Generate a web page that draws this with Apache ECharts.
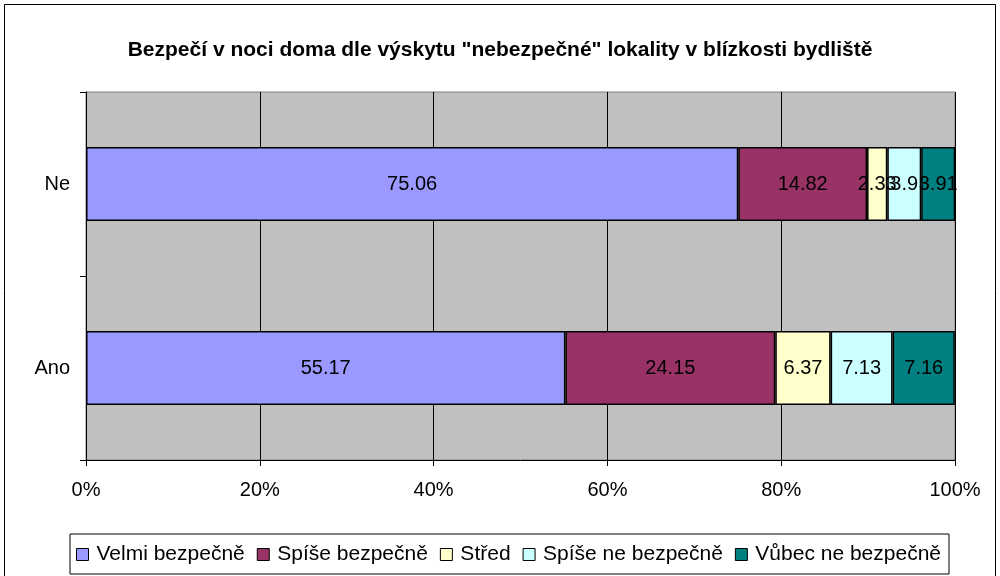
<!DOCTYPE html>
<html>
<head>
<meta charset="utf-8">
<script src="https://cdn.jsdelivr.net/npm/echarts@6/dist/echarts.min.js"></script>
<style>
  body { margin: 0; background: #fff; }
  #main { width: 1000px; height: 576px; }
</style>
</head>
<body>
<div id="main"></div>
<script>
/* data */
var categories = ['Ano', 'Ne'];
var seriesNames = ['Velmi bezpečně', 'Spíše bezpečně', 'Střed', 'Spíše ne bezpečně', 'Vůbec ne bezpečně'];
var velmi = [55.17, 75.06];
var spise = [24.15, 14.82];
var stred = [6.37, 2.33];
var spiseNe = [7.13, 3.9];
var vubecNe = [7.16, 3.91];
var xTicks = [0, 20, 40, 60, 80, 100];

var colors = ['#9999FF', '#993366', '#FFFFCC', '#CCFFFF', '#008080'];
var values = [velmi, spise, stred, spiseNe, vubecNe];

var myChart = echarts.init(document.getElementById('main'));

var series = [];
for (var i = 0; i < seriesNames.length; i++) {
  series.push({
    name: seriesNames[i],
    type: 'bar',
    stack: 'total',
    barWidth: 74,
    itemStyle: {
      color: colors[i],
      borderColor: '#000',
      borderWidth: 1.5
    },
    label: {
      show: true,
      position: 'inside',
      color: '#000',
      fontFamily: 'Liberation Sans, Arial',
      fontSize: 20,
      formatter: function (p) { return p.value; }
    },
    data: values[i]
  });
}

option = {
  animation: false,
  textStyle: { fontFamily: 'Liberation Sans, Arial' },
  title: {
    text: 'Bezpečí v noci doma dle výskytu "nebezpečné" lokality v blízkosti bydliště',
    left: 'center',
    top: 35,
    textStyle: {
      fontFamily: 'Liberation Sans, Arial',
      fontSize: 21,
      fontWeight: 'bold',
      color: '#000'
    }
  },
  graphic: [{
    type: 'rect',
    shape: { x: 4.5, y: 4.5, width: 991, height: 620 },
    style: { fill: 'none', stroke: '#000', lineWidth: 1 },
    silent: true
  }],
  legend: {
    bottom: 2,
    left: 70,
    icon: 'rect',
    itemWidth: 12,
    itemHeight: 12,
    itemGap: 12,
    padding: [10, 8, 9, 6],
    borderColor: '#000',
    borderWidth: 1,
    textStyle: {
      fontFamily: 'Liberation Sans, Arial',
      fontSize: 21,
      color: '#000',
      padding: [0, 0, 0, 3]
    },
    itemStyle: { borderColor: '#000', borderWidth: 1 },
    data: seriesNames
  },
  grid: {
    left: 86,
    right: 45,
    top: 92,
    bottom: 116,
    show: true,
    backgroundColor: '#C0C0C0',
    borderColor: '#808080',
    borderWidth: 1
  },
  xAxis: {
    type: 'value',
    min: 0,
    max: 100,
    interval: 20,
    axisLine: { show: true, lineStyle: { color: '#000', width: 1 } },
    axisTick: { show: true, length: 6, lineStyle: { color: '#000' } },
    axisLabel: {
      color: '#000',
      fontSize: 20,
      margin: 20,
      formatter: function (v) { return xTicks.indexOf(v) >= 0 ? v + '%' : ''; }
    },
    splitLine: { show: true, lineStyle: { color: '#000', width: 1 } }
  },
  yAxis: {
    type: 'category',
    data: categories,
    axisLine: { show: true, lineStyle: { color: '#000', width: 1 } },
    axisTick: { show: true, length: 6, lineStyle: { color: '#000' } },
    axisLabel: { color: '#000', fontSize: 20, margin: 16 },
    splitLine: { show: false }
  },
  series: series
};
myChart.setOption(option);
</script>
</body>
</html>
